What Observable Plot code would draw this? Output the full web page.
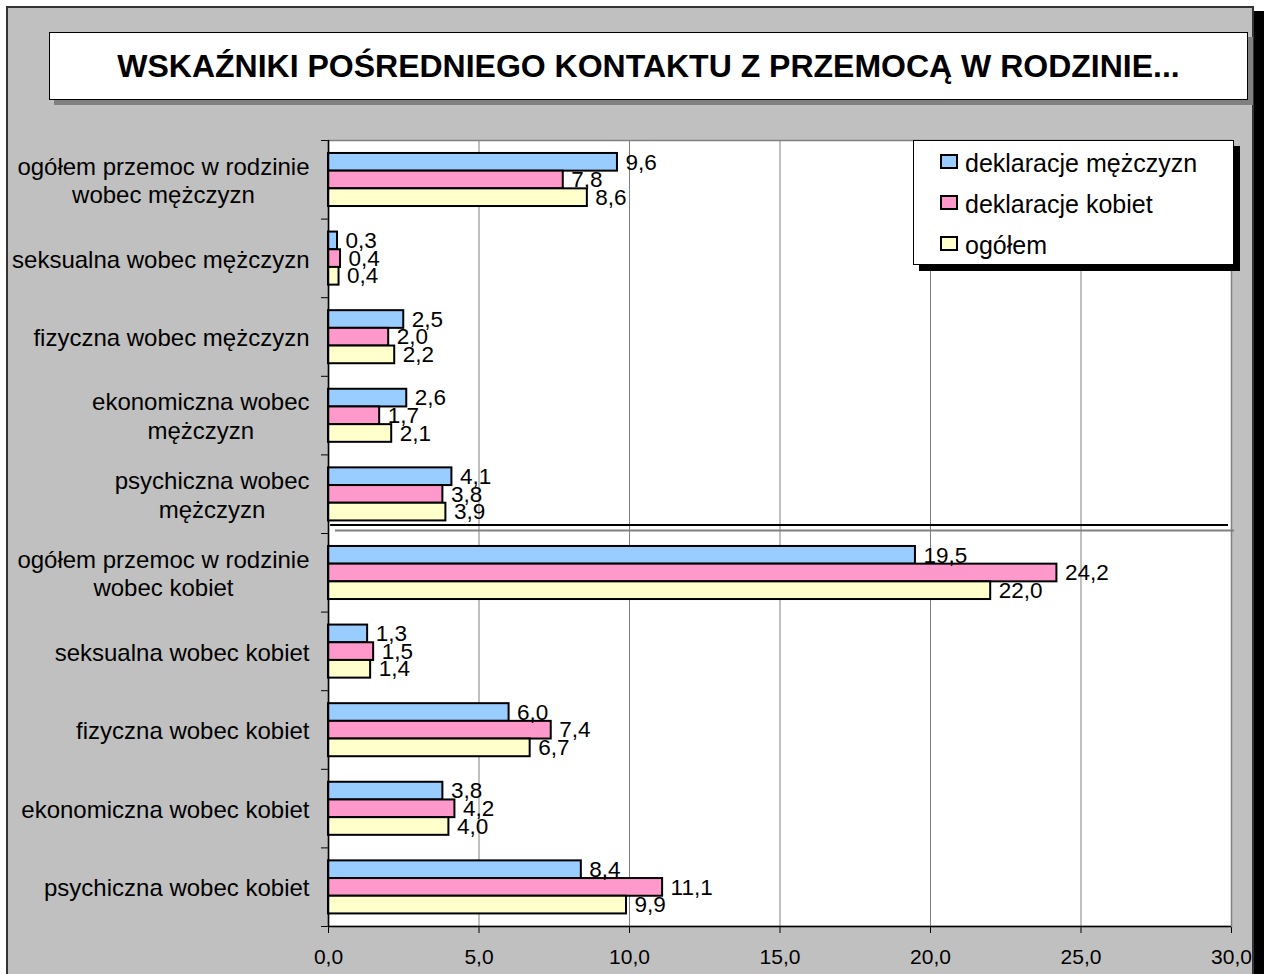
<!DOCTYPE html>
<html>
<head>
<meta charset="utf-8">
<script src="https://cdn.jsdelivr.net/npm/d3@7"></script>
<script src="https://cdn.jsdelivr.net/npm/@observablehq/plot@0.6"></script>
<style>
  body { margin: 0; background: #fff; }
  #wrap { position: relative; width: 1264px; height: 974px; overflow: hidden; font-family: "Liberation Sans", Arial, sans-serif; }
  #frame { position: absolute; left: 6px; top: 6px; width: 1244px; height: 1000px; background: #c0c0c0; border: 2px solid #333; box-shadow: 10px 5px 0 #000; }
  #title { position: absolute; left: 49px; top: 32px; width: 1197px; height: 66px; background: #fff; border: 1px solid #000; box-shadow: 5px 5px 0 #808080; display: flex; align-items: center; justify-content: center; font-weight: bold; font-size: 32px; z-index: 2; }
  #chart { position: absolute; left: 0; top: 110px; z-index: 1; }
  #legend { position: absolute; left: 913px; top: 140px; width: 319px; height: 123px; background: #fff; border: 1px solid #000; box-shadow: 6px 6px 0 #000; z-index: 3; font-size: 25px; }
  .row { height: 41px; display: flex; align-items: center; padding-left: 26px; }
  .sw { width: 18px; height: 15px; box-sizing: border-box; border: 2px solid #000; margin-right: 7px; }
  .row span { position: relative; top: 2px; }
</style>
</head>
<body>
<div id="wrap">
  <div id="frame"></div>
  <div id="title">WSKAŹNIKI POŚREDNIEGO KONTAKTU Z PRZEMOCĄ W RODZINIE...</div>
  <div id="chart"></div>
  <div id="legend"></div>
</div>
<script>
const categories = [
  "ogółem przemoc w rodzinie\nwobec mężczyzn",
  "seksualna wobec mężczyzn",
  "fizyczna wobec mężczyzn",
  "ekonomiczna wobec\nmężczyzn",
  "psychiczna wobec\nmężczyzn",
  "ogółem przemoc w rodzinie\nwobec kobiet",
  "seksualna wobec kobiet",
  "fizyczna wobec kobiet",
  "ekonomiczna wobec kobiet",
  "psychiczna wobec kobiet"
];
const series = ["deklaracje mężczyzn", "deklaracje kobiet", "ogółem"];
const menValues   = [9.6, 0.3, 2.5, 2.6, 4.1, 19.5, 1.3, 6.0, 3.8, 8.4];
const womenValues = [7.8, 0.4, 2.0, 1.7, 3.8, 24.2, 1.5, 7.4, 4.2, 11.1];
const totalValues = [8.6, 0.35, 2.2, 2.1, 3.9, 22.0, 1.4, 6.7, 4.0, 9.9];
const xTicks = [0, 5, 10, 15, 20, 25, 30];
const gridTicks = [5, 10, 15, 20, 25];
const separatorAt = [5];
const colors = ["#99ccff", "#ff99cc", "#ffffcc"];

const FONT = '"Liberation Sans", Arial, sans-serif';
const valuesBySeries = [menValues, womenValues, totalValues];
const rows = categories.flatMap((c, i) => series.map((s, j) => ({category: c, index: i, series: s, value: valuesBySeries[j][i]})));
const sub = d3.scaleBand().domain(series).range([0.165, 0.84]);
const fmt = v => (Math.round(v * 10) / 10).toFixed(1).replace(".", ",");

const plot = Plot.plot({
  width: 1264,
  height: 864,
  marginLeft: 328,
  marginRight: 33,
  marginTop: 30,
  marginBottom: 48,
  style: {background: "none", fontFamily: FONT, fontSize: "21px", color: "#000", overflow: "visible"},
  x: {domain: [0, 30], ticks: xTicks, tickFormat: fmt, tickSize: 7, tickPadding: 16, label: null},
  y: {domain: [0, categories.length], reverse: true, ticks: d3.range(categories.length + 1), tickFormat: () => "", tickSize: 7, label: null},
  color: {domain: series, range: colors},
  marks: [
    Plot.frame({fill: "white", stroke: "#808080", strokeWidth: 1.5}),
    Plot.ruleX(gridTicks, {stroke: "#808080", strokeWidth: 1}),
    Plot.ruleY(separatorAt, {x1: 0.07, x2: 29.9, dy: -8.5, stroke: "#000", strokeWidth: 2}),
    Plot.ruleY(separatorAt, {x1: 0.23, x2: 30.1, dy: -3, stroke: "#808080", strokeWidth: 2}),
    Plot.rectX(rows, {
      x1: 0,
      x2: "value",
      y1: d => d.index + sub(d.series),
      y2: d => d.index + sub(d.series) + sub.bandwidth(),
      fill: "series",
      stroke: "#000",
      strokeWidth: 2
    }),
    Plot.text(rows, {
      x: "value",
      y: d => d.index + sub(d.series) + sub.bandwidth() / 2,
      text: d => fmt(d.value),
      dx: 8,
      textAnchor: "start",
      fontSize: 22.5,
      fill: "#000"
    }),
    Plot.text(categories, {
      x: 0,
      y: (d, i) => i + 0.5,
      text: d => d,
      textAnchor: "end",
      dx: -19,
      fontSize: 24,
      lineHeight: 1.2,
      fill: "#000"
    }),
    Plot.ruleX([0], {stroke: "#000", strokeWidth: 1.5}),
    Plot.ruleY([categories.length], {stroke: "#000", strokeWidth: 1.5})
  ]
});
document.getElementById("chart").appendChild(plot);

// center the lines of two-line category labels within their right-aligned block
plot.querySelectorAll("text").forEach(t => {
  const spans = t.querySelectorAll("tspan");
  if (spans.length < 2) return;
  const widths = Array.from(spans, s => s.getComputedTextLength());
  const w = Math.max(...widths);
  spans.forEach((s, k) => s.setAttribute("x", -(w - widths[k]) / 2));
});

// legend
const legend = document.getElementById("legend");
series.forEach((s, j) => {
  const row = document.createElement("div");
  row.className = "row";
  const sw = document.createElement("div");
  sw.className = "sw";
  sw.style.background = colors[j];
  const label = document.createElement("span");
  label.textContent = s;
  row.appendChild(sw);
  row.appendChild(label);
  legend.appendChild(row);
});
</script>
</body>
</html>
